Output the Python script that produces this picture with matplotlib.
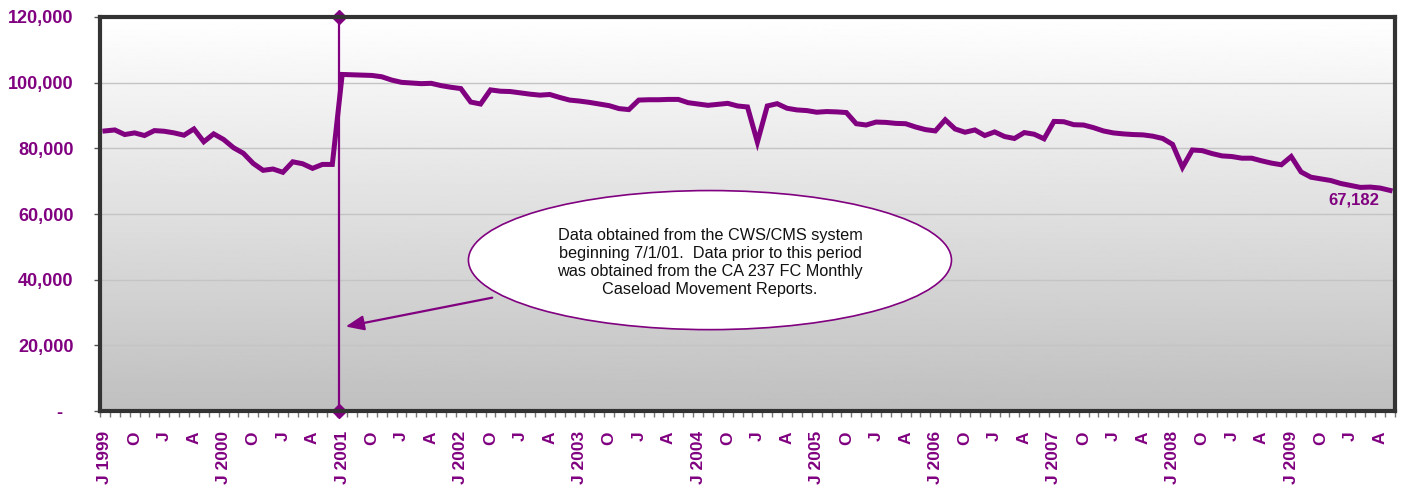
import matplotlib
matplotlib.use("Agg")
import matplotlib.pyplot as plt
import numpy as np
from matplotlib.patches import Ellipse
from matplotlib.ticker import FixedLocator

# monthly foster care caseload, July 1999 .. May 2010
caseload = [
    85300, 85600, 84200, 84700, 83900, 85400, 85200, 84700, 84000, 85900, 82000,
    84400, 82700, 80200, 78500, 75400, 73300, 73700, 72700, 75900, 75300, 73900,
    75100, 75100, 102500, 102400, 102300, 102200, 101800, 100800, 100100, 99900, 99700,
    99800, 99100, 98600, 98200, 94100, 93500, 97800, 97400, 97300, 96900, 96500,
    96200, 96400, 95500, 94700, 94400, 94000, 93500, 93000, 92100, 91800, 94700,
    94800, 94800, 94900, 94900, 93900, 93500, 93100, 93400, 93700, 92900, 92600,
    81900, 92900, 93600, 92200, 91700, 91500, 91000, 91200, 91100, 90900, 87500,
    87100, 88000, 87900, 87600, 87500, 86500, 85700, 85300, 88700, 85900, 84900,
    85600, 83900, 85000, 83600, 83000, 84800, 84300, 82900, 88200, 88100, 87200,
    87100, 86300, 85300, 84700, 84400, 84200, 84100, 83700, 83000, 81200,
    74200, 79500, 79300, 78400, 77700, 77500, 77000, 77000, 76200, 75500, 75000,
    77500, 72800, 71200, 70700, 70200, 69300, 68700, 68100, 68200, 67900, 67182,
]

# one label per quarter, starting July 1999
quarter_labels = [
    "J 1999", "O", "J", "A", "J 2000", "O", "J", "A", "J 2001", "O", "J", "A",
    "J 2002", "O", "J", "A", "J 2003", "O", "J", "A", "J 2004", "O", "J", "A",
    "J 2005", "O", "J", "A", "J 2006", "O", "J", "A", "J 2007", "O", "J", "A",
    "J 2008", "O", "J", "A", "J 2009", "O", "J", "A",
]

y_ticks = [0, 20000, 40000, 60000, 80000, 100000, 120000]
y_labels = ["-  ", "20,000", "40,000", "60,000", "80,000", "100,000", "120,000"]

cutover_month = 24  # July 2001, CWS/CMS start
note = ("Data obtained from the CWS/CMS system\n"
        "beginning 7/1/01.  Data prior to this period\n"
        "was obtained from the CA 237 FC Monthly\n"
        "Caseload Movement Reports.")

PURPLE = "#800080"
plt.rcParams["font.family"] = ["Liberation Sans", "DejaVu Sans"]

fig = plt.figure(figsize=(14.08, 4.87), dpi=100)
ax = fig.add_axes([100 / 1408, 76 / 487, 1295 / 1408, 394 / 487])

x = np.arange(len(caseload))
ax.set_xlim(-0.5, len(caseload) - 0.5)
ax.set_ylim(0, 120000)

# grey gradient background
grad = np.linspace(0.75, 1.0, 256).reshape(-1, 1)
ax.imshow(grad, cmap="gray", vmin=0, vmax=1, origin="lower", aspect="auto",
          extent=(-0.5, len(caseload) - 0.5, 0, 120000), zorder=0)

for v in y_ticks[1:-1]:
    ax.axhline(v, color="#c4c4c4", lw=1, zorder=1)

ax.plot(x, caseload, color=PURPLE, lw=3.6, solid_joinstyle="miter", zorder=3)

cx = cutover_month - 0.35
ax.plot([cx, cx], [0, 120000], color=PURPLE, lw=1.6, marker="D", ms=7,
        clip_on=False, zorder=4)

ax.annotate(f"{caseload[-1]:,}", (x[-1], caseload[-1]), xytext=(-26, -7),
            textcoords="offset points", ha="center", va="center",
            color=PURPLE, fontsize=12, fontweight="bold", zorder=5)

# callout
ax.annotate("", xy=(0.1876, 0.213), xytext=(0.305, 0.289), xycoords="axes fraction",
            arrowprops=dict(arrowstyle="-|>,head_length=1.1,head_width=0.45",
                            color=PURPLE, lw=1.6), zorder=5)
ax.add_patch(Ellipse((0.471, 0.383), 0.373, 0.353, transform=ax.transAxes,
                     facecolor="white", edgecolor=PURPLE, lw=1.2, zorder=6))
ax.text(0.471, 0.378, note, transform=ax.transAxes, ha="center", va="center",
        fontsize=11.7, color="#111111", linespacing=1.25, zorder=7)

# axes styling
ax.set_yticks(y_ticks)
ax.set_yticklabels(y_labels)
ax.tick_params(axis="y", length=4, width=1, color="#555555", pad=15,
               labelsize=13, labelcolor=PURPLE)
for t in ax.get_yticklabels():
    t.set_fontweight("bold")

ax.xaxis.set_minor_locator(FixedLocator(np.arange(-0.5, len(caseload), 1.0)))
ax.set_xticks(np.arange(0, len(caseload), 3))
ax.set_xticklabels(quarter_labels, rotation=90)
ax.tick_params(axis="x", which="major", length=0, pad=14.5, labelsize=12.5,
               labelcolor=PURPLE)
ax.tick_params(axis="x", which="minor", length=4, width=1, color="#777777")
for t in ax.get_xticklabels():
    t.set_fontweight("bold")

for side in ["left", "bottom", "top", "right"]:
    ax.spines[side].set_color("#333333")
    ax.spines[side].set_linewidth(3)
    ax.spines[side].set_zorder(8)

fig.savefig("out.png", dpi=100)
